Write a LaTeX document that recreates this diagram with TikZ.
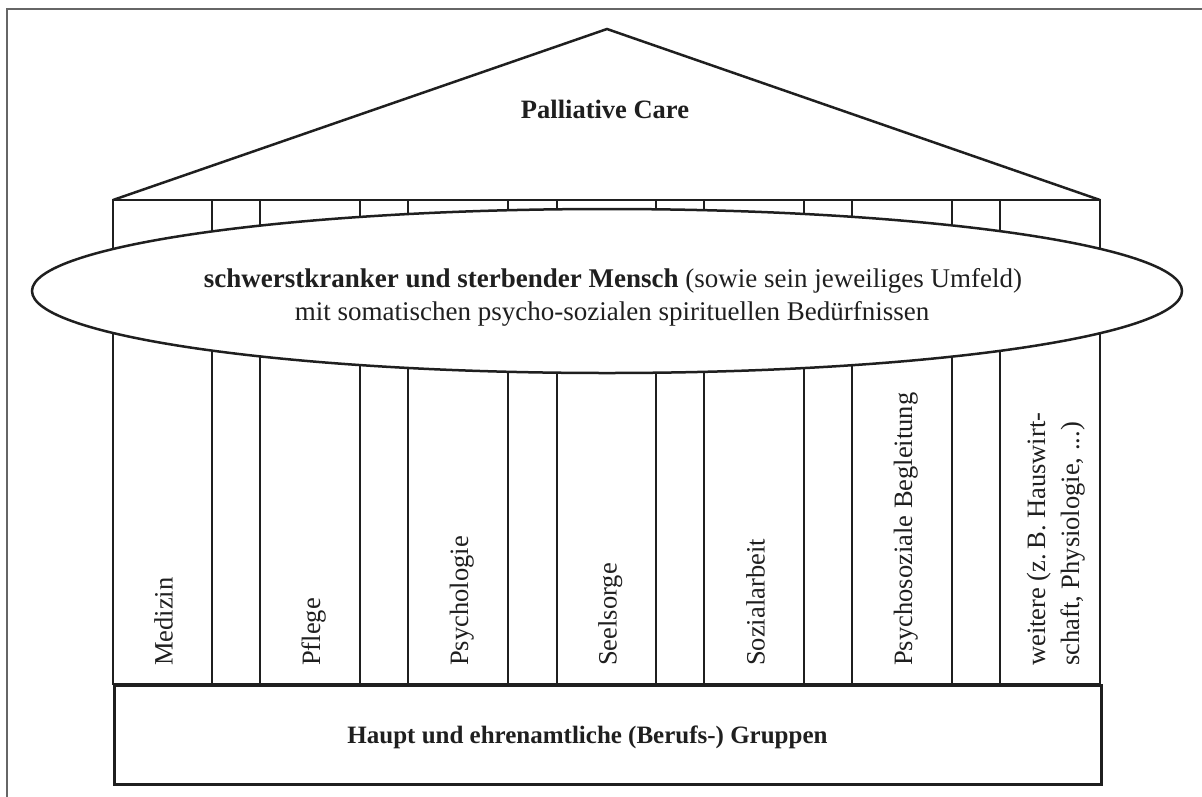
\documentclass[tikz,border=0pt]{standalone}
\usepackage{fontspec}
\setmainfont{Liberation Serif}
\usetikzlibrary{shapes.geometric}
\begin{document}
\begin{tikzpicture}[x=1pt,y=-1pt,line width=2.5pt,
  struct/.style={draw=black!88,line width=2.5pt},
  frame/.style={draw=black!60,line width=2pt},
  collabel/.style={font=\fontsize{26.5}{34}\selectfont,inner sep=0pt,rotate=90,anchor=base west,text=black!88},
  bigbold/.style={font=\fontsize{26.5}{32}\selectfont\bfseries,inner sep=0pt,anchor=base,text=black!88},
  ovaltext/.style={font=\fontsize{27}{33}\selectfont,inner sep=0pt,anchor=base,text=black!88}]
\useasboundingbox (0,0) rectangle (1202,796);
% outer frame (only left and top edges visible)
\coordinate (fbl) at (7,805);
\coordinate (ftl) at (7,9);
\coordinate (ftr) at (1210,9);
\draw[frame] (fbl) -- (ftl) -- (ftr);
% main structure corners
\coordinate (tl) at (113,200);
\coordinate (tr) at (1100,200);
\coordinate (bl) at (113,684);
\coordinate (br) at (1100,684);
\coordinate (apex) at (607,29);
% column block
\draw[struct] (tl) rectangle (br);
\foreach \x [count=\i] in {212,260,360,408,508,557,656,704,804,852,952,1000}{
  \coordinate (ct\i) at (\x,200);
  \coordinate (cb\i) at (\x,684);
  \draw[struct] (ct\i) -- (cb\i);
}
% roof
\draw[struct,line join=miter] (tl) -- (apex) -- (tr);
\node[bigbold] (title) at (605,118) {Palliative Care};
% base
\node[struct,anchor=north west,minimum width=987pt,minimum height=99pt,inner sep=0pt] (base) at (bl) {};
\node[bigbold,font=\fontsize{25}{30}\selectfont\bfseries] (basetext) at (587.5,743) {Haupt und ehrenamtliche (Berufs-) Gruppen};
% ellipse
\node[struct,fill=white,ellipse,minimum width=1150pt,minimum height=164pt,inner sep=0pt] (mensch) at (607,291) {};
\node[ovaltext] (l1) at (613,287) {\textbf{schwerstkranker und sterbender Mensch} (sowie sein jeweiliges Umfeld)};
\node[ovaltext] (l2) at (612,320) {mit somatischen psycho-sozialen spirituellen Bedürfnissen};
% column labels
\node[collabel] (c1) at (172.5,667) {Medizin};
\node[collabel] (c2) at (320,667) {Pflege};
\node[collabel] (c3) at (468,667) {Psychologie};
\node[collabel] (c4) at (616.5,667) {Seelsorge};
\node[collabel] (c5) at (764.5,667) {Sozialarbeit};
\node[collabel] (c6) at (912,667) {Psychosoziale Begleitung};
\node[collabel,align=left] (c7) at (1079,667) {weitere (z.\,B. Hauswirt-\\schaft, Physiologie, ...)};
\end{tikzpicture}
\end{document}
